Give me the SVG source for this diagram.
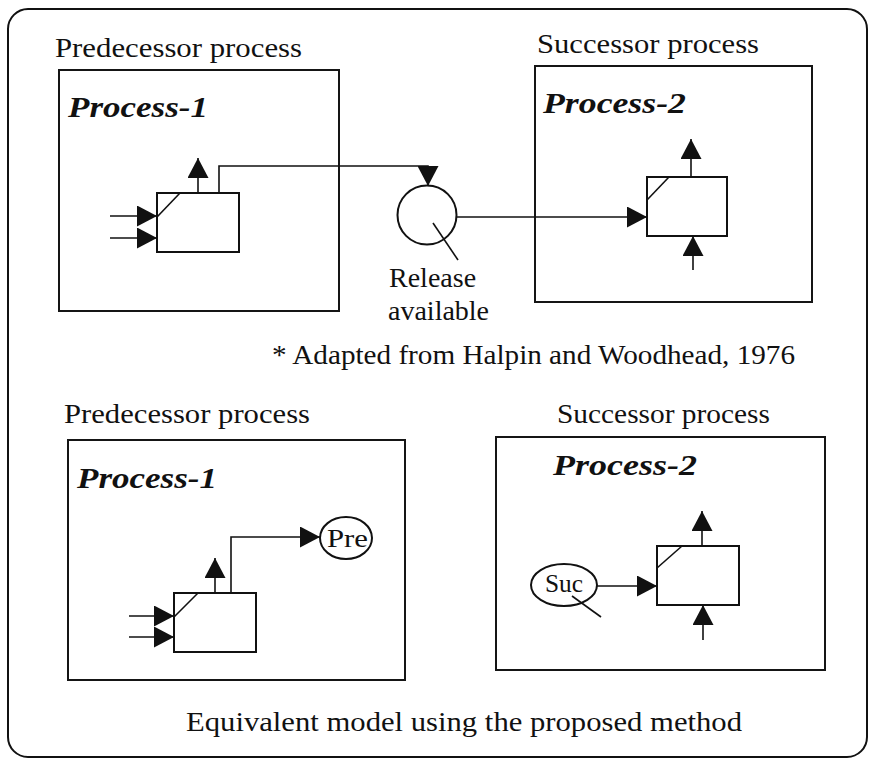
<svg xmlns="http://www.w3.org/2000/svg" width="870" height="762" viewBox="0 0 870 762">
<style>
text{fill:#111}
.lbl{font-size:28px}
.ttl{font-size:30px;font-weight:bold;font-style:italic}
.sm{font-size:26px}
.box{fill:none;stroke:#151515;stroke-width:2}
.act{fill:#fff;stroke:#111;stroke-width:2}
.ln{fill:none;stroke:#111;stroke-width:1.6}
.node{fill:#fff;stroke:#111;stroke-width:2}
</style>
<defs>
<marker id="ah" markerUnits="userSpaceOnUse" markerWidth="20" markerHeight="21" refX="20" refY="10.5" orient="auto">
<path d="M0,0 L20,10.5 L0,21 Z" fill="#111"/>
</marker>
</defs>
<rect id="frame" x="8" y="9" width="859" height="748" rx="20" fill="none" stroke="#111" stroke-width="2"/>

<g font-family="Liberation Serif, Times New Roman, serif">
<g id="top-predecessor">
<text class="lbl" x="55" y="57" textLength="247" lengthAdjust="spacingAndGlyphs">Predecessor process</text>
<rect class="box" x="59" y="70" width="280" height="241"/>
<text class="ttl" x="68" y="117" textLength="140" lengthAdjust="spacingAndGlyphs">Process-1</text>
</g>
<g id="top-activity-1">
<rect class="act" x="157" y="193" width="82" height="59"/>
<line class="ln" x1="157" y1="217" x2="180" y2="193"/>
</g>
<g id="top-release">
<circle class="node" cx="427" cy="215" r="29.5"/>
<line class="ln" x1="433" y1="223" x2="458" y2="260"/>
<text class="lbl" x="389" y="287">Release</text>
<text class="lbl" x="388" y="320">available</text>
</g>
<g id="top-successor">
<text class="lbl" x="537" y="53" textLength="222" lengthAdjust="spacingAndGlyphs">Successor process</text>
<rect class="box" x="535" y="66" width="277" height="236"/>
<text class="ttl" x="543" y="113" textLength="143" lengthAdjust="spacingAndGlyphs">Process-2</text>
</g>
<g id="top-activity-2">
<rect class="act" x="647" y="177" width="80" height="59"/>
<line class="ln" x1="647" y1="200" x2="669" y2="177"/>
</g>
<text id="note" class="lbl" x="272" y="364" textLength="523" lengthAdjust="spacingAndGlyphs">* Adapted from Halpin and Woodhead, 1976</text>

<g id="bottom-predecessor">
<text class="lbl" x="64" y="423" textLength="246" lengthAdjust="spacingAndGlyphs">Predecessor process</text>
<rect class="box" x="68" y="440" width="337" height="240"/>
<text class="ttl" x="77" y="488" textLength="140" lengthAdjust="spacingAndGlyphs">Process-1</text>
</g>
<g id="bottom-activity-1">
<rect class="act" x="174" y="593" width="82" height="59"/>
<line class="ln" x1="174" y1="617" x2="198" y2="593"/>
</g>
<g id="pre">
<ellipse class="node" cx="346" cy="538" rx="26" ry="21"/>
<text class="sm" x="327" y="547" textLength="41" lengthAdjust="spacingAndGlyphs">Pre</text>
</g>
<g id="bottom-successor">
<text class="lbl" x="557" y="423" textLength="213" lengthAdjust="spacingAndGlyphs">Successor process</text>
<rect class="box" x="496" y="437" width="329" height="233"/>
<text class="ttl" x="553" y="475" textLength="144" lengthAdjust="spacingAndGlyphs">Process-2</text>
</g>
<g id="bottom-activity-2">
<rect class="act" x="657" y="546" width="82" height="59"/>
<line class="ln" x1="657" y1="568" x2="682" y2="546"/>
</g>
<g id="suc">
<ellipse class="node" cx="564" cy="585" rx="33" ry="21"/>
<text class="sm" x="545" y="592" textLength="38" lengthAdjust="spacingAndGlyphs">Suc</text>
<line class="ln" x1="572" y1="596" x2="601" y2="617"/>
</g>
<text id="caption" class="lbl" x="186" y="731" textLength="556" lengthAdjust="spacingAndGlyphs">Equivalent model using the proposed method</text>
</g>

<g id="connectors">
<path class="ln" d="M110,216 L157,216" marker-end="url(#ah)"/>
<path class="ln" d="M110,238 L157,238" marker-end="url(#ah)"/>
<path class="ln" d="M198,193 L198,158" marker-end="url(#ah)"/>
<path class="ln" d="M219,193 L219,166 L428,166 L428,186" marker-end="url(#ah)"/>
<path class="ln" d="M457,217 L647,217" marker-end="url(#ah)"/>
<path class="ln" d="M691,177 L691,139" marker-end="url(#ah)"/>
<path class="ln" d="M693,270 L693,236" marker-end="url(#ah)"/>
<path class="ln" d="M129,616 L174,616" marker-end="url(#ah)"/>
<path class="ln" d="M129,637 L174,637" marker-end="url(#ah)"/>
<path class="ln" d="M215,593 L215,558" marker-end="url(#ah)"/>
<path class="ln" d="M231,593 L231,537 L320,537" marker-end="url(#ah)"/>
<path class="ln" d="M597,586 L657,586" marker-end="url(#ah)"/>
<path class="ln" d="M702,546 L702,511" marker-end="url(#ah)"/>
<path class="ln" d="M703,640 L703,605" marker-end="url(#ah)"/>
</g>
</svg>
